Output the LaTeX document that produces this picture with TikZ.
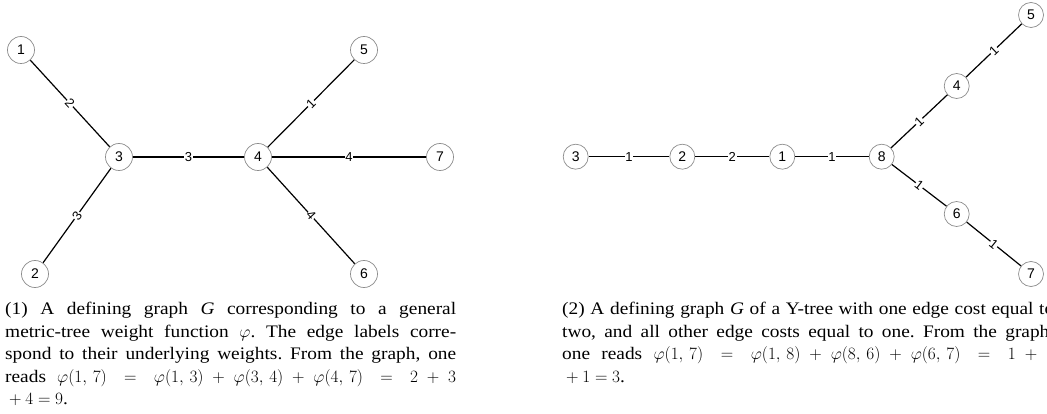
\documentclass[tikz,border=0pt]{standalone}
\usepackage{fontspec}
\setmainfont{Liberation Serif}[FakeStretch=1.1]
\newfontfamily\nodefont{Liberation Sans}
\newcommand\cm{,\,}
\begin{document}
\frenchspacing
\begin{tikzpicture}[x=1pt,y=-1pt,
  vtx/.style={circle,draw=black!45,line width=0.7pt,fill=white,minimum size=27pt,inner sep=0pt,font=\nodefont\fontsize{14}{14}\selectfont},
  vtxr/.style={vtx,minimum size=25pt},
  edge/.style={line width=1.2pt},
  thickedge/.style={line width=2.2pt},
  midedge/.style={line width=1.6pt},
  wlab/.style={midway,sloped,fill=white,inner sep=0.6pt,font=\nodefont\fontsize{13}{13}\selectfont},
  captext/.style={anchor=north west,inner sep=0pt,align=justify,font=\fontsize{17.6}{22.6}\selectfont}
]
\useasboundingbox (0,0) rectangle (1047,414);
\clip (0,0) rectangle (1047,414);
% left graph
\node[vtx] (l1) at (21,50) {1};
\node[vtx] (l3) at (119,157) {3};
\node[vtx] (l4) at (258,157) {4};
\node[vtx] (l5) at (364,50) {5};
\node[vtx] (l7) at (440,157) {7};
\node[vtx] (l2) at (35,274) {2};
\node[vtx] (l6) at (364,274) {6};
\draw[edge] (l1) -- node[wlab] {2} (l3);
\draw[edge] (l2) -- node[wlab] {3} (l3);
\draw[thickedge] (l3) -- node[wlab] {3} (l4);
\draw[edge] (l4) -- node[wlab] {1} (l5);
\draw[thickedge] (l4) -- node[wlab] {4} (l7);
\draw[edge] (l4) -- node[wlab] {4} (l6);
% right graph
\node[vtxr] (r3) at (575.7,156.7) {3};
\node[vtxr] (r2) at (682.3,156.7) {2};
\node[vtxr] (r1) at (782.3,156.7) {1};
\node[vtxr] (r8) at (881.7,156.7) {8};
\node[vtxr] (r4) at (956.7,86) {4};
\node[vtxr] (r5) at (1031,15) {5};
\node[vtxr] (r6) at (956.7,214) {6};
\node[vtxr] (r7) at (1031,274) {7};
\draw[midedge] (r3) -- node[wlab] {1} (r2);
\draw[midedge] (r2) -- node[wlab] {2} (r1);
\draw[midedge] (r1) -- node[wlab] {1} (r8);
\draw[edge] (r8) -- node[wlab] {1} (r4);
\draw[edge] (r4) -- node[wlab] {1} (r5);
\draw[edge] (r8) -- node[wlab] {1} (r6);
\draw[edge] (r6) -- node[wlab] {1} (r7);
% captions
\node[captext,text width=451pt] (capl) at (5,302) {(1) A defining graph \textit{G} corresponding to a general\linebreak
metric-tree weight function $\varphi$. The edge labels corre-\linebreak
spond to their underlying weights. From the graph, one\linebreak
reads $\varphi(1\cm7) = \varphi(1\cm3)+\varphi(3\cm4)+\varphi(4\cm7) = 2+3$\linebreak
${}+4=9$.};
\node[captext,text width=492pt] (capr) at (562,302) {(2) A defining graph \textit{G} of a Y-tree with one edge cost equal to\linebreak
two, and all other edge costs equal to one. From the graph,\linebreak
one reads $\varphi(1\cm7) = \varphi(1\cm8)+\varphi(8\cm6)+\varphi(6\cm7) = 1+1$\linebreak
${}+1=3$.};
\end{tikzpicture}
\end{document}
